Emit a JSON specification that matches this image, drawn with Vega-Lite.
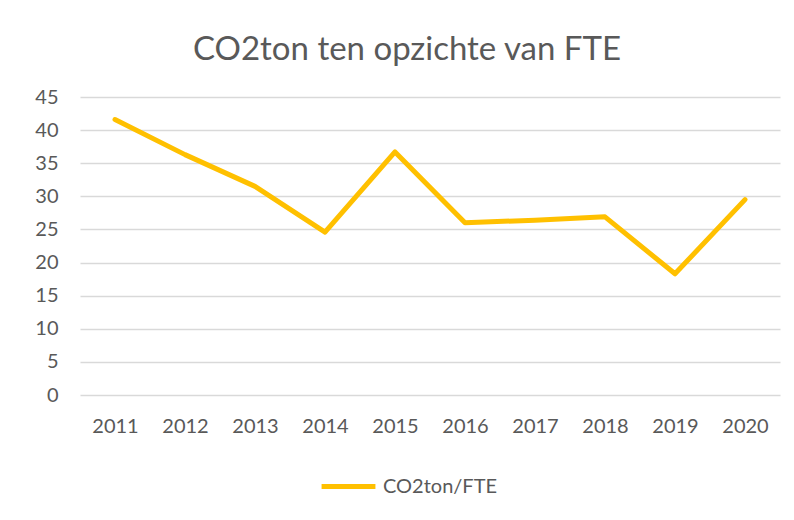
{
  "$schema": "https://vega.github.io/schema/vega-lite/v6.json",
  "autosize": {"type": "none"},
  "width": 700,
  "height": 298,
  "padding": {"left": 80, "top": 97, "right": 14, "bottom": 125},
  "background": "#ffffff",
  "title": {
    "text": "CO2ton ten opzichte van FTE",
    "font": "Lato",
    "fontSize": 33,
    "fontWeight": "normal",
    "color": "#595959",
    "anchor": "middle",
    "dx": -23,
    "offset": 20
  },
  "data": {
    "values": [
      {"jaar": "2011", "waarde": 41.6, "reeks": "CO2ton/FTE"},
      {"jaar": "2012", "waarde": 36.3, "reeks": "CO2ton/FTE"},
      {"jaar": "2013", "waarde": 31.5, "reeks": "CO2ton/FTE"},
      {"jaar": "2014", "waarde": 24.6, "reeks": "CO2ton/FTE"},
      {"jaar": "2015", "waarde": 36.7, "reeks": "CO2ton/FTE"},
      {"jaar": "2016", "waarde": 26.0, "reeks": "CO2ton/FTE"},
      {"jaar": "2017", "waarde": 26.4, "reeks": "CO2ton/FTE"},
      {"jaar": "2018", "waarde": 26.9, "reeks": "CO2ton/FTE"},
      {"jaar": "2019", "waarde": 18.3, "reeks": "CO2ton/FTE"},
      {"jaar": "2020", "waarde": 29.5, "reeks": "CO2ton/FTE"}
    ]
  },
  "mark": {"type": "line", "strokeWidth": 5, "strokeJoin": "round", "strokeCap": "round"},
  "encoding": {
    "x": {
      "field": "jaar",
      "type": "ordinal",
      "scale": {"type": "point", "padding": 0.5},
      "axis": {
        "title": null,
        "labelAngle": 0,
        "labelFont": "Lato",
        "labelFontSize": 20,
        "labelColor": "#595959",
        "labelPadding": 21,
        "ticks": false,
        "domain": false,
        "grid": false
      }
    },
    "y": {
      "field": "waarde",
      "type": "quantitative",
      "scale": {"domain": [0, 45], "nice": false},
      "axis": {
        "title": null,
        "values": [0, 5, 10, 15, 20, 25, 30, 35, 40, 45],
        "labelFont": "Lato",
        "labelFontSize": 20,
        "labelColor": "#595959",
        "labelPadding": 22,
        "ticks": false,
        "domain": false,
        "grid": true,
        "gridColor": "#d9d9d9",
        "gridWidth": 1.3
      }
    },
    "color": {
      "field": "reeks",
      "type": "nominal",
      "scale": {"range": ["#FFC000"]},
      "legend": {
        "title": null,
        "orient": "none",
        "legendX": 239,
        "legendY": 360,
        "symbolType": "stroke",
        "symbolSize": 2900,
        "symbolStrokeWidth": 5,
        "labelFont": "Lato",
        "labelFontSize": 20,
        "labelColor": "#595959",
        "labelOffset": 5
      }
    }
  },
  "config": {"view": {"stroke": null}}
}
